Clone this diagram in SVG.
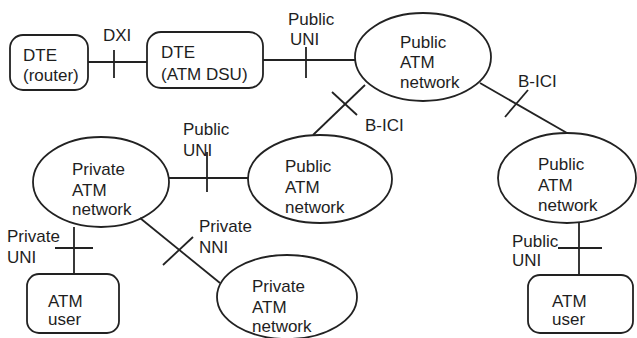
<svg xmlns="http://www.w3.org/2000/svg" width="637" height="338" viewBox="0 0 637 338">
<style>
.n{fill:none;stroke:#222;stroke-width:1.8}
.c{fill:none;stroke:#222;stroke-width:1.8}
text{font-family:"Liberation Sans",Arial,sans-serif;font-size:17px;fill:#1e1e1e}
</style>
<rect width="637" height="338" fill="#fff"/>
<g id="connectors">
<line class="c" x1="88" y1="62" x2="147" y2="62"/>
<line class="c" x1="114" y1="50" x2="114" y2="78"/>
<line class="c" x1="263" y1="60" x2="355" y2="60"/>
<line class="c" x1="306" y1="47" x2="306" y2="78"/>
<line class="c" x1="365" y1="85" x2="313" y2="135"/>
<line class="c" x1="332" y1="92" x2="357" y2="115"/>
<line class="c" x1="480" y1="83" x2="567" y2="133"/>
<line class="c" x1="505" y1="117" x2="528" y2="90"/>
<line class="c" x1="169" y1="178" x2="248" y2="178"/>
<line class="c" x1="207" y1="152" x2="207" y2="192"/>
<line class="c" x1="140" y1="218" x2="220" y2="283"/>
<line class="c" x1="163" y1="265" x2="193" y2="237"/>
<line class="c" x1="74" y1="227" x2="74" y2="274"/>
<line class="c" x1="55" y1="248" x2="93" y2="248"/>
<line class="c" x1="579" y1="223" x2="579" y2="275"/>
<line class="c" x1="558" y1="248" x2="602" y2="248"/>
<text x="103" y="41">DXI</text>
<text x="288" y="25">Public</text>
<text x="290" y="45">UNI</text>
<text x="365" y="131">B-ICI</text>
<text x="518" y="87">B-ICI</text>
<text x="183" y="135">Public</text>
<text x="183" y="156">UNI</text>
<text x="199" y="232">Private</text>
<text x="199" y="253">NNI</text>
<text x="7" y="242">Private</text>
<text x="7" y="263">UNI</text>
<text x="512" y="247">Public</text>
<text x="512" y="266">UNI</text>
</g>
<g id="dte-router">
<rect class="n" x="10" y="35" width="78" height="55" rx="13"/>
<text x="23" y="61">DTE</text>
<text x="23" y="81">(router)</text>
</g>
<g id="dte-dsu">
<rect class="n" x="147" y="32" width="116" height="56" rx="14"/>
<text x="161" y="58">DTE</text>
<text x="161" y="80">(ATM DSU)</text>
</g>
<g id="public-top">
<ellipse class="n" cx="423" cy="57" rx="68" ry="44"/>
<text x="400" y="48">Public</text>
<text x="400" y="68">ATM</text>
<text x="400" y="88">network</text>
</g>
<g id="public-mid">
<ellipse class="n" cx="320" cy="179" rx="72" ry="44"/>
<text x="285" y="172">Public</text>
<text x="285" y="193">ATM</text>
<text x="285" y="213">network</text>
</g>
<g id="public-right">
<ellipse class="n" cx="567" cy="178" rx="69" ry="45"/>
<text x="538" y="170">Public</text>
<text x="538" y="191">ATM</text>
<text x="538" y="211">network</text>
</g>
<g id="private-left">
<ellipse class="n" cx="101" cy="182" rx="68" ry="45"/>
<text x="72" y="175">Private</text>
<text x="72" y="196">ATM</text>
<text x="72" y="215">network</text>
</g>
<g id="private-bottom">
<ellipse class="n" cx="287" cy="297" rx="70" ry="42"/>
<text x="252" y="292">Private</text>
<text x="252" y="313">ATM</text>
<text x="252" y="332">network</text>
</g>
<g id="user-left">
<rect class="n" x="27" y="274" width="92" height="59" rx="12"/>
<text x="48" y="307">ATM</text>
<text x="48" y="325">user</text>
</g>
<g id="user-right">
<rect class="n" x="528" y="275" width="105" height="58" rx="12"/>
<text x="552" y="307">ATM</text>
<text x="552" y="325">user</text>
</g>
</svg>
